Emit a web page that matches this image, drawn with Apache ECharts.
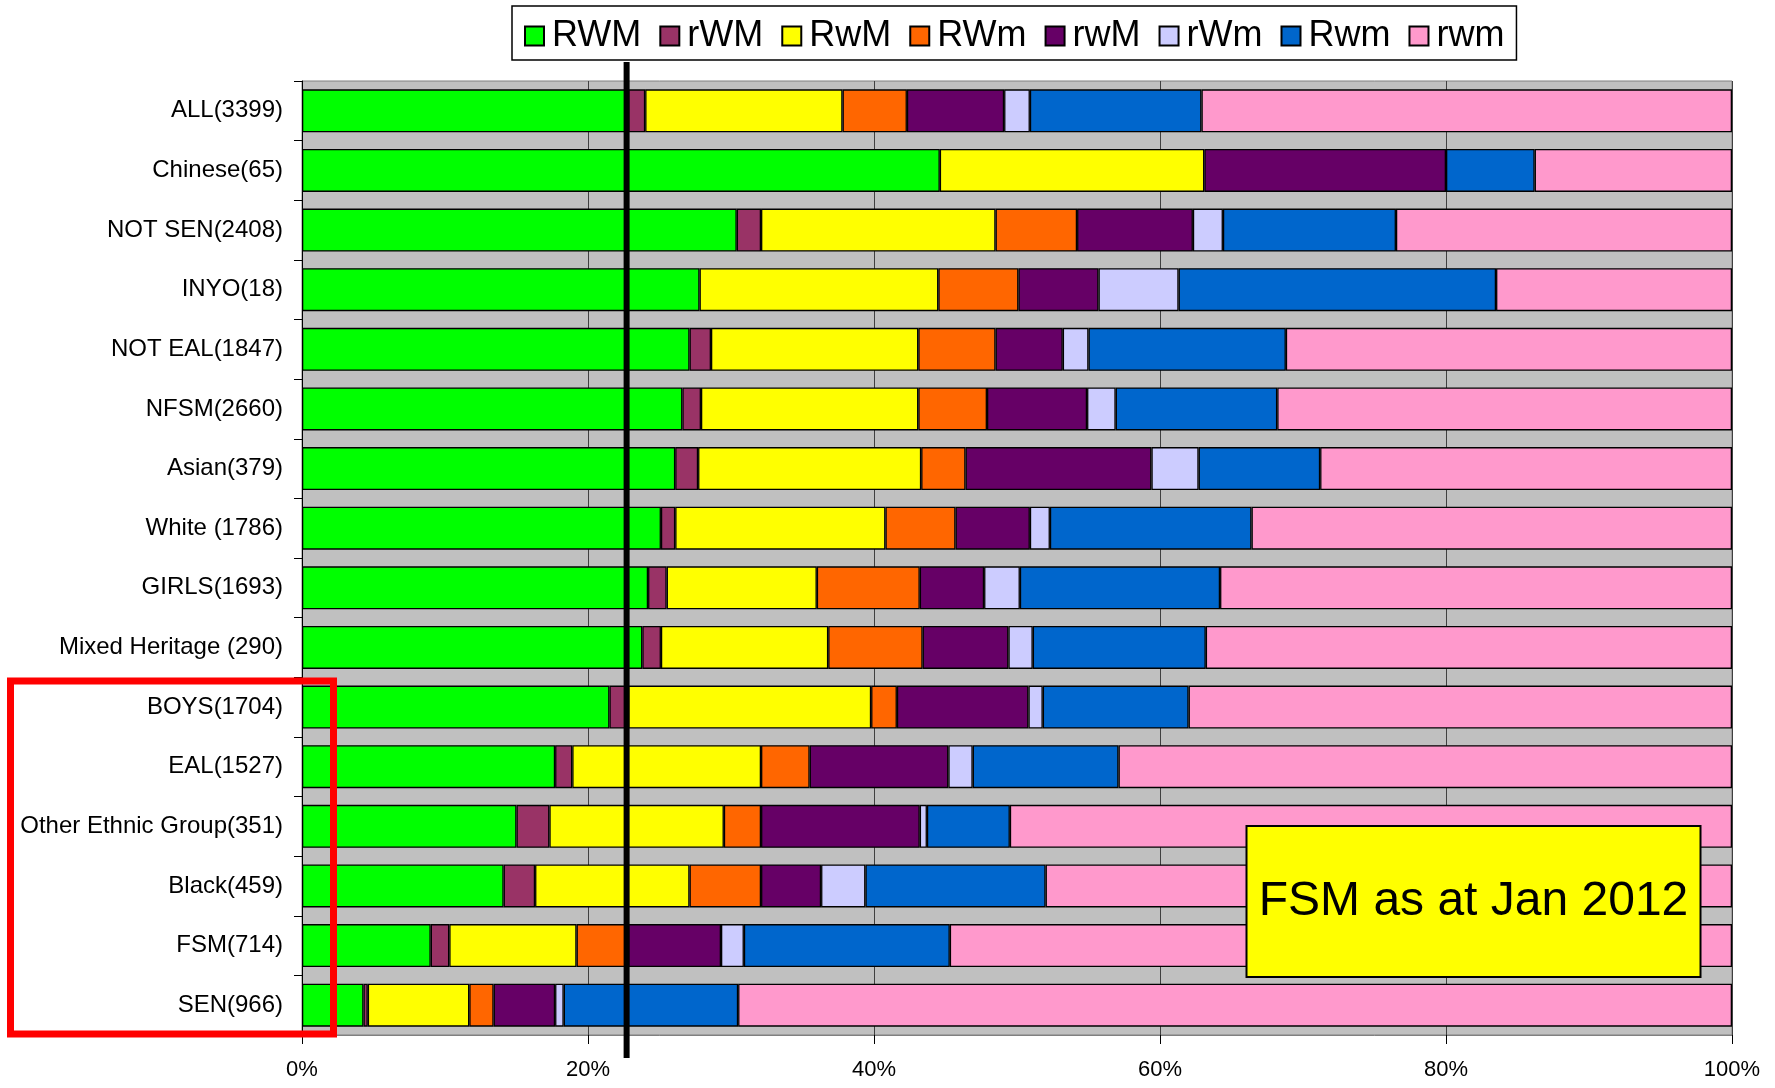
<!DOCTYPE html>
<html>
<head>
<meta charset="utf-8">
<script src="https://cdn.jsdelivr.net/npm/echarts@6/dist/echarts.min.js"></script>
<style>
html,body{margin:0;padding:0;background:#fff;}
#main{width:1775px;height:1088px;}
</style>
</head>
<body>
<div id="main"></div>
<script>
// ---- data (percent of each group) ----
const categories = ['ALL(3399)', 'Chinese(65)', 'NOT SEN(2408)', 'INYO(18)', 'NOT EAL(1847)', 'NFSM(2660)', 'Asian(379)', 'White (1786)', 'GIRLS(1693)', 'Mixed Heritage (290)', 'BOYS(1704)', 'EAL(1527)', 'Other Ethnic Group(351)', 'Black(459)', 'FSM(714)', 'SEN(966)'];
const seriesNames = ['RWM', 'rWM', 'RwM', 'RWm', 'rwM', 'rWm', 'Rwm', 'rwm'];
const RWM = [22.8, 44.6, 30.4, 27.8, 27.1, 26.6, 26.1, 25.1, 24.2, 23.8, 21.5, 17.7, 15.0, 14.1, 9.0, 4.3];
const rWM = [1.2, 0, 1.7, 0, 1.5, 1.3, 1.6, 1.0, 1.3, 1.3, 1.3, 1.2, 2.3, 2.2, 1.3, 0.3];
const RwM = [13.8, 18.5, 16.4, 16.7, 14.5, 15.2, 15.6, 14.7, 10.5, 11.7, 17.0, 13.2, 12.2, 10.8, 8.9, 7.1];
const RWm = [4.5, 0, 5.7, 5.6, 5.4, 4.8, 3.1, 4.9, 7.2, 6.6, 1.8, 3.4, 2.6, 5.0, 3.6, 1.7];
const rwM = [6.8, 16.9, 8.1, 5.6, 4.7, 7.0, 13.0, 5.2, 4.5, 6.0, 9.2, 9.7, 11.1, 4.2, 6.5, 4.3];
const rWm = [1.8, 0, 2.1, 5.6, 1.8, 2.0, 3.3, 1.4, 2.5, 1.7, 1.0, 1.7, 0.5, 3.1, 1.6, 0.6];
const Rwm = [12.0, 6.2, 12.1, 22.2, 13.8, 11.3, 8.5, 14.1, 14.0, 12.1, 10.2, 10.2, 5.8, 12.6, 14.4, 12.2];
const rwm = [37.1, 13.8, 23.5, 16.5, 31.2, 31.8, 28.8, 33.6, 35.8, 36.8, 38.0, 42.9, 50.5, 48.0, 54.7, 69.5];
const xTicks = [0, 20, 40, 60, 80, 100];
const fsmLine = [22.7];
const noteText = 'FSM as at Jan 2012';

const seriesData = [RWM, rWM, RwM, RWm, rwM, rWm, Rwm, rwm];
const colors = ['#00FF00', '#993366', '#FFFF00', '#FF6600', '#660066', '#CCCCFF', '#0066CC', '#FF99CC'];
const FONT = "'Liberation Sans', Arial, sans-serif";

const chart = echarts.init(document.getElementById('main'), null, {renderer: 'canvas'});

const option = {
  animation: false,
  backgroundColor: '#ffffff',
  textStyle: {fontFamily: FONT, color: '#000'},
  legend: {
    left: 512,
    top: 6,
    padding: [12, 12, 6, 12],
    itemGap: 18,
    itemWidth: 19,
    itemHeight: 19,
    icon: 'rect',
    borderColor: '#000',
    borderWidth: 1.5,
    backgroundColor: '#fff',
    textStyle: {fontSize: 36, fontFamily: FONT, color: '#000', padding: [0, 0, 0, 3]},
    data: seriesNames
  },
  grid: {
    left: 302,
    right: 43,
    top: 81,
    bottom: 53,
    show: true,
    backgroundColor: '#C0C0C0',
    borderColor: '#808080',
    borderWidth: 1,
    containLabel: false
  },
  xAxis: {
    type: 'value',
    min: xTicks[0],
    max: xTicks[xTicks.length - 1],
    interval: 20,
    axisLine: {show: true, lineStyle: {color: '#808080', width: 1}},
    axisTick: {show: true, length: 9, lineStyle: {color: '#000', width: 1}},
    axisLabel: {fontSize: 22, color: '#000', fontFamily: FONT, margin: 24, formatter: '{value}%'},
    splitLine: {show: true, lineStyle: {color: '#404040', width: 1}}
  },
  yAxis: {
    type: 'category',
    inverse: true,
    data: categories,
    axisLine: {show: true, lineStyle: {color: '#000', width: 1}},
    axisTick: {show: true, length: 8, lineStyle: {color: '#000', width: 1}},
    axisLabel: {fontSize: 24, color: '#000', fontFamily: FONT, margin: 19},
    splitLine: {show: false}
  },
  series: seriesNames.map((name, i) => ({
    name: name,
    type: 'bar',
    stack: 'total',
    barCategoryGap: '28%',
    data: seriesData[i].map(v => (v === 0 ? null : v)),
    itemStyle: {color: colors[i], borderColor: '#000', borderWidth: 1.3},
    emphasis: {disabled: true}
  }))
};

chart.setOption(option);

const xLine = chart.convertToPixel({xAxisIndex: 0}, fsmLine[0]);

chart.setOption({
  graphic: [
    {
      type: 'line',
      z: 100,
      shape: {x1: xLine, y1: 62, x2: xLine, y2: 1058},
      style: {stroke: '#000', lineWidth: 6}
    },
    {
      type: 'rect',
      z: 100,
      shape: {x: 10.5, y: 681, width: 323, height: 353},
      style: {stroke: '#FF0000', fill: null, lineWidth: 7}
    },
    {
      type: 'rect',
      z: 100,
      shape: {x: 1246.5, y: 826, width: 454, height: 151},
      style: {fill: '#FFFF00', stroke: '#000', lineWidth: 2}
    },
    {
      type: 'text',
      z: 101,
      x: 1473.5,
      y: 902,
      style: {
        text: noteText,
        fontSize: 48,
        fontFamily: FONT,
        fill: '#000',
        align: 'center',
        verticalAlign: 'middle'
      }
    }
  ]
});
</script>
</body>
</html>
